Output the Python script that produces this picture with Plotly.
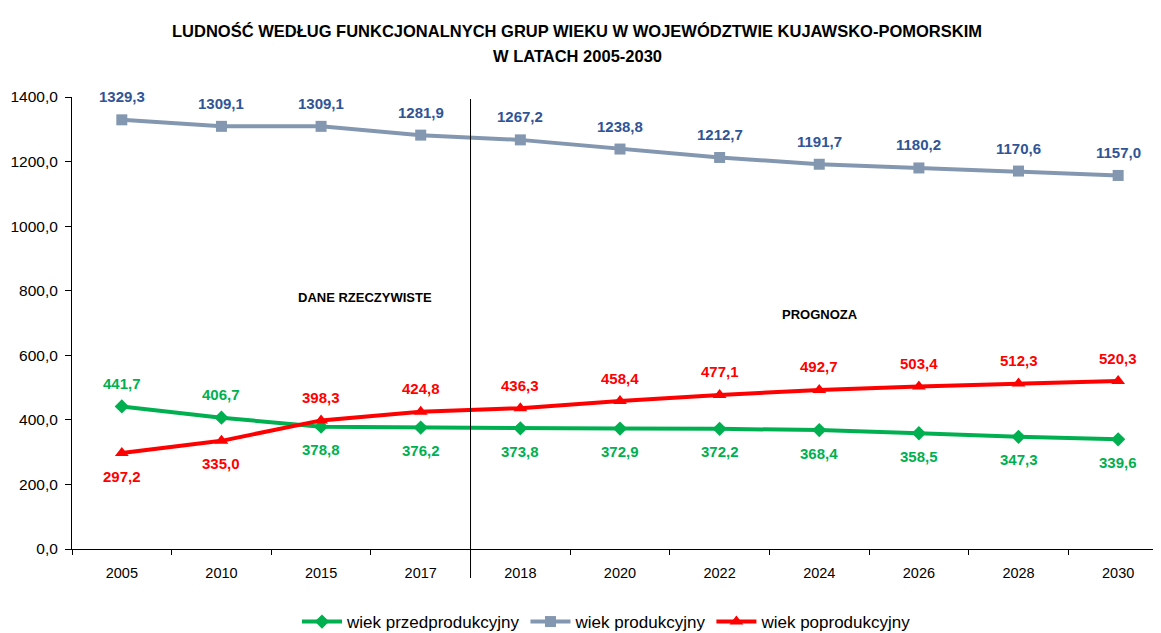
import plotly.graph_objects as go

years = ["2005", "2010", "2015", "2017", "2018", "2020", "2022", "2024", "2026", "2028", "2030"]
przed = [441.7, 406.7, 378.8, 376.2, 373.8, 372.9, 372.2, 368.4, 358.5, 347.3, 339.6]
prod = [1329.3, 1309.1, 1309.1, 1281.9, 1267.2, 1238.8, 1212.7, 1191.7, 1180.2, 1170.6, 1157.0]
popr = [297.2, 335.0, 398.3, 424.8, 436.3, 458.4, 477.1, 492.7, 503.4, 512.3, 520.3]

names = ["wiek przedprodukcyjny", "wiek produkcyjny", "wiek poprodukcyjny"]
# label side: +1 above, -1 below
przed_side = [1, 1, -1, -1, -1, -1, -1, -1, -1, -1, -1]
prod_side = [1] * 11
popr_side = [-1, -1, 1, 1, 1, 1, 1, 1, 1, 1, 1]

FONT = "Liberation Sans, Arial, sans-serif"
GREEN = "#00B050"
GRAY = "#8497B0"
BLUE = "#2F5597"
RED = "#FF0000"

OFF = 8  # page body margin
W, H = 1161 - OFF, 633 - OFF
L, R, T = 72 - OFF, 1, 97 - OFF
B = H - (549 - OFF)
PW, PH = W - L - R, H - T - B

def px_x(px):
    return (px - OFF - L) / PW

def px_y(py):
    return (H - B - (py - OFF)) / PH

def fmt(v):
    return f"{v:.1f}".replace(".", ",")

fig = go.Figure()
series = [
    (przed, names[0], GREEN, GREEN, "diamond", 11, przed_side),
    (prod, names[1], GRAY, BLUE, "square", 11, prod_side),
    (popr, names[2], RED, RED, "triangle-up", 12, popr_side),
]
for vals, name, lc, tc, sym, ms, side in series:
    fig.add_trace(go.Scatter(
        x=years, y=vals, name=name, mode="lines+markers",
        line=dict(color=lc, width=4),
        marker=dict(symbol=sym, size=ms, color=lc),
    ))
    for i, (v, s) in enumerate(zip(vals, side)):
        fig.add_annotation(x=i, y=v, xref="x", yref="y", text=f"<b>{fmt(v)}</b>", showarrow=False,
                           yshift=23 * s, font=dict(family=FONT, size=15, color=tc),
                           xanchor="center", yanchor="middle")

fig.add_shape(type="line", xref="x", yref="paper", x0=3.5, x1=3.5, y0=px_y(578), y1=px_y(99),
              line=dict(color="black", width=1))

fig.add_annotation(x=px_x(296), y=px_y(297), xref="paper", yref="paper", text="<b>DANE RZECZYWISTE</b>",
                   showarrow=False, font=dict(family=FONT, size=13, color="black"))
fig.add_annotation(x=px_x(860), y=px_y(314), xref="paper", yref="paper", text="<b>PROGNOZA</b>",
                   showarrow=False, font=dict(family=FONT, size=13, color="black"))

fig.add_annotation(x=px_x(577), y=px_y(20), xref="paper", yref="paper",
                   text="<b>LUDNOŚĆ WEDŁUG FUNKCJONALNYCH GRUP WIEKU W WOJEWÓDZTWIE KUJAWSKO-POMORSKIM</b>",
                   showarrow=False, font=dict(family=FONT, size=16.5, color="black"))
fig.add_annotation(x=px_x(577), y=px_y(45), xref="paper", yref="paper",
                   text="<b>W LATACH 2005-2030</b>",
                   showarrow=False, font=dict(family=FONT, size=16.5, color="black"))

fig.update_layout(
    width=W, height=H,
    margin=dict(l=L, r=R, t=T, b=B, autoexpand=False),
    paper_bgcolor="white", plot_bgcolor="white",
    separators=", ",
    font=dict(family=FONT, color="black"),
    legend=dict(orientation="h", x=px_x(607), xanchor="center", y=px_y(622), yanchor="middle",
                font=dict(family=FONT, size=17, color="black"), itemwidth=40,
                traceorder="normal"),
    showlegend=True,
)
fig.update_xaxes(type="category", range=[-0.5, 10.42], showline=True, linecolor="black", linewidth=1,
                 ticks="outside", tickson="boundaries", ticklen=5, tickcolor="black", automargin=False,
                 ticklabelstandoff=11,
                 showgrid=False, zeroline=False, tickfont=dict(family=FONT, size=14.5, color="black"))
fig.update_yaxes(range=[0, 1400], tickvals=[0, 200, 400, 600, 800, 1000, 1200, 1400], tickformat=".1f",
                 showline=True, linecolor="black", linewidth=1, ticks="outside", ticklen=6, tickcolor="black",
                 automargin=False, ticklabelstandoff=4,
                 showgrid=False, zeroline=False, tickfont=dict(family=FONT, size=15.5, color="black"))

fig.write_html("out.html")
